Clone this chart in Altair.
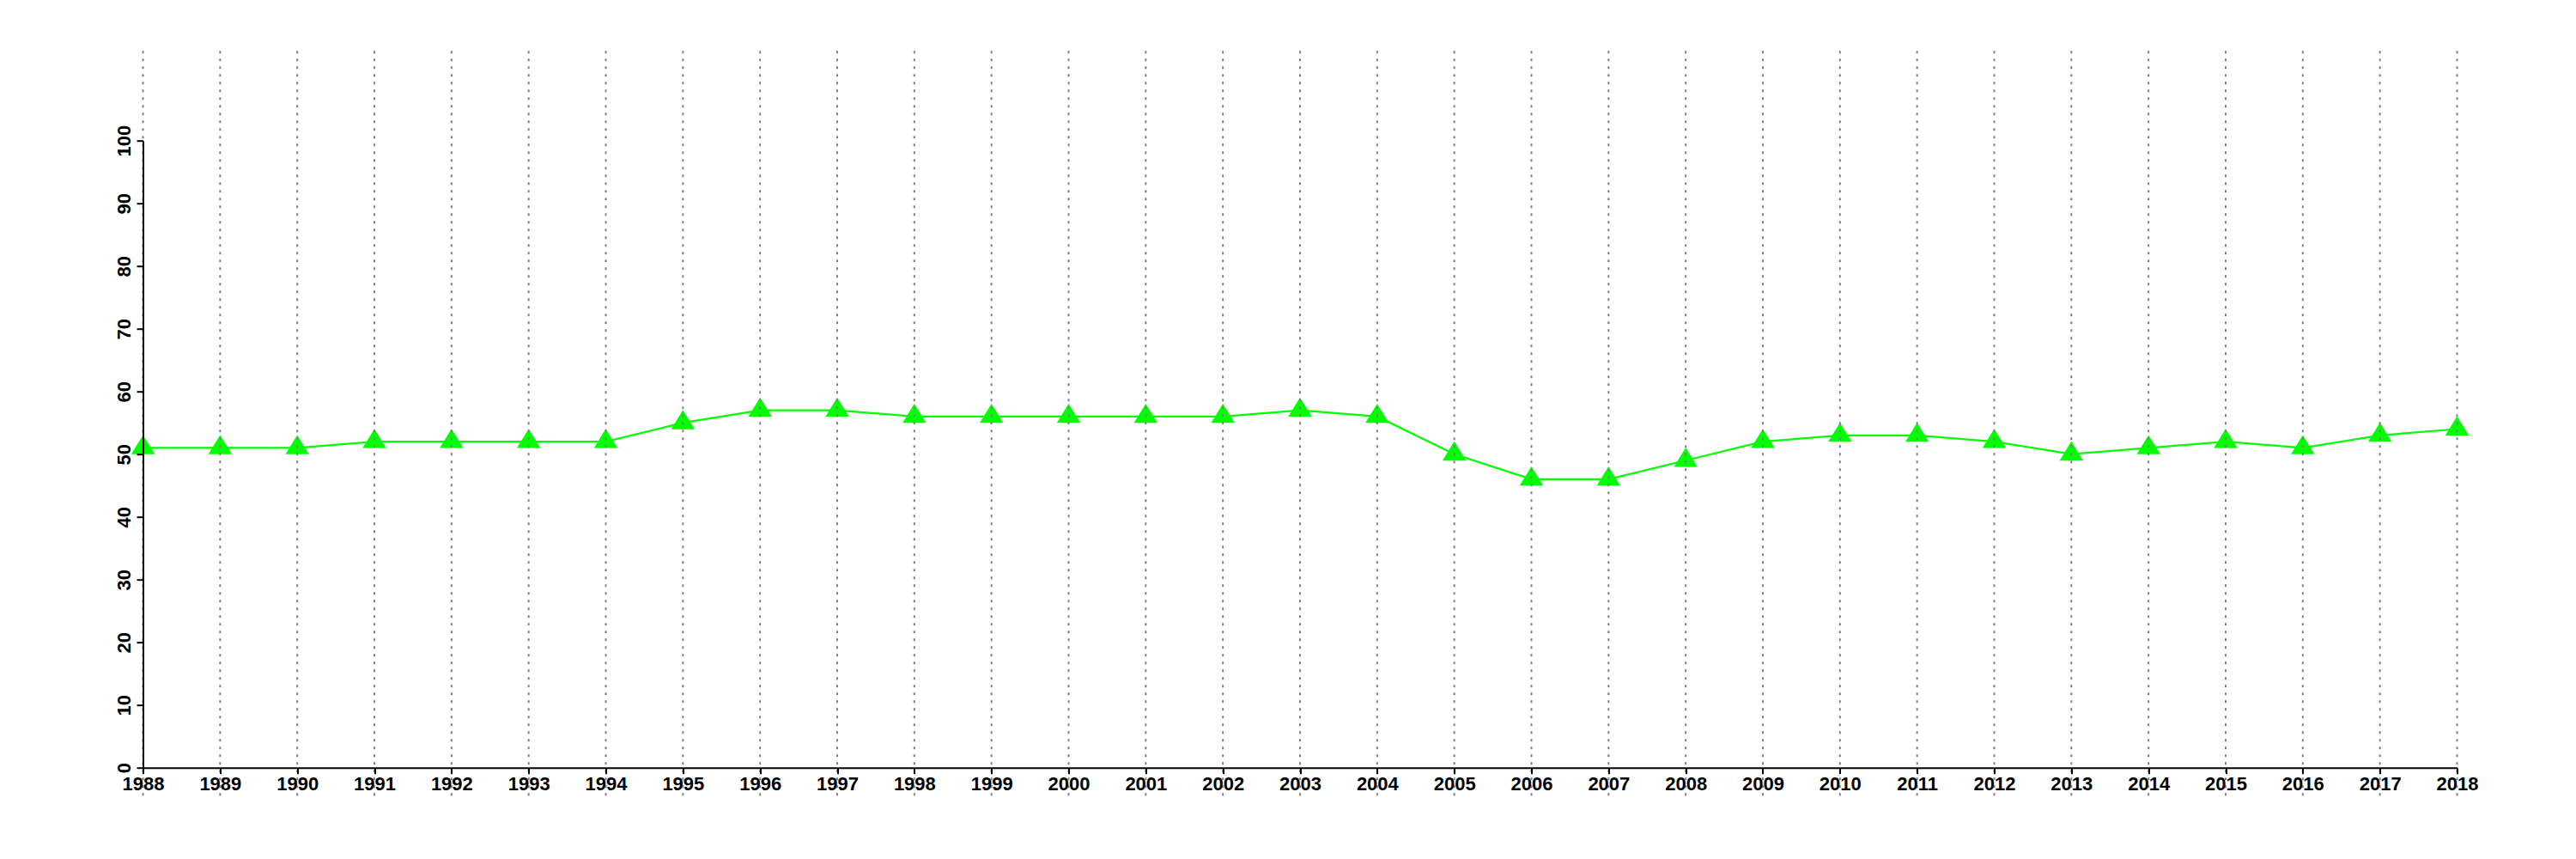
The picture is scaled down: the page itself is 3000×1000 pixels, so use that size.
import altair as alt
import pandas as pd

years = list(range(1988, 2019))
values = [51, 51, 51, 52, 52, 52, 52, 55, 57, 57, 56, 56, 56, 56, 56, 57,
          56, 50, 46, 46, 49, 52, 53, 53, 52, 50, 51, 52, 51, 53, 54]
y_ticks = [0, 10, 20, 30, 40, 50, 60, 70, 80, 90, 100]

df = pd.DataFrame({"year": years, "value": values})

FONT = "Liberation Sans"
GREEN = "#00FF00"

x_scale = alt.Scale(domain=[1988, 2018], nice=False, zero=False)
y_scale = alt.Scale(domain=[0, 100], nice=False, zero=False)

x_axis = alt.Axis(
    values=years, format="d", title=None, grid=False,
    domainColor="black", domainWidth=2,
    tickColor="black", tickWidth=2, tickSize=7,
    labelFont=FONT, labelFontSize=22, labelFontWeight="bold", labelColor="black",
    labelBaseline="alphabetic", labelPadding=19, labelAngle=0,
    labelOverlap=False, labelFlush=False, zindex=1,
)
y_axis = alt.Axis(
    values=y_ticks, title=None, grid=False,
    domainColor="black", domainWidth=2,
    tickColor="black", tickWidth=2, tickSize=7.5,
    labelFont=FONT, labelFontSize=22, labelFontWeight="bold", labelColor="black",
    labelAngle=270, labelAlign="center", labelBaseline="alphabetic",
    labelPadding=7.3, labelOverlap=False, labelFlush=False, zindex=1,
)

base = alt.Chart(df)

line = base.mark_line(color=GREEN, strokeWidth=2.2).encode(
    x=alt.X("year:Q", scale=x_scale, axis=x_axis),
    y=alt.Y("value:Q", scale=y_scale, axis=y_axis),
)

points = base.mark_point(
    shape="M0,-1.087L1,0.543L-1,0.543Z", filled=True, fill=GREEN,
    opacity=1, strokeWidth=0, size=751,
).encode(
    x=alt.X("year:Q", scale=x_scale),
    y=alt.Y("value:Q", scale=y_scale),
)

grid = base.mark_rule(color="#808080", strokeWidth=2, strokeDash=[3, 6]).encode(
    x=alt.X("year:Q", scale=x_scale),
    y=alt.datum(114.3),
    y2=alt.datum(-4.48),
)

chart = alt.layer(line, points, grid).properties(
    width=2695,
    height=730,
    padding={"left": 158.5, "top": 155.7, "right": 100, "bottom": 60},
    autosize=alt.AutoSizeParams(type="none"),
).configure_view(stroke=None)

chart.save("out.html", embed_options={"renderer": "svg", "actions": False})
